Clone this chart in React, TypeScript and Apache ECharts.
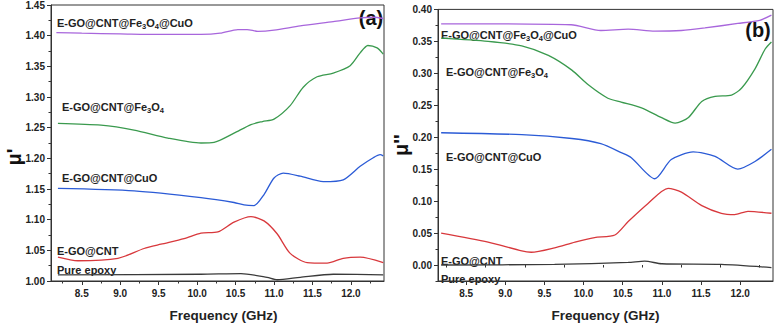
import React, { useEffect, useRef } from "react";
import * as echarts from "echarts";

// ---- Data (frequency GHz, value) ----
const aPurple = [[8.17,1.405],[8.5,1.404],[9.0,1.403],[9.5,1.402],[10.05,1.402],[10.3,1.404],[10.53,1.410],[10.65,1.410],[10.79,1.407],[11.0,1.409],[11.34,1.416],[11.77,1.423],[12.12,1.429],[12.3,1.430],[12.42,1.428]];
const aGreen = [[8.19,1.257],[8.75,1.254],[9.18,1.246],[9.62,1.233],[10.05,1.225],[10.22,1.226],[10.48,1.241],[10.70,1.255],[10.85,1.260],[11.0,1.264],[11.21,1.286],[11.38,1.316],[11.56,1.333],[11.77,1.339],[11.99,1.351],[12.12,1.372],[12.22,1.384],[12.34,1.380],[12.42,1.370]];
const aBlue = [[8.19,1.151],[9.18,1.147],[10.05,1.136],[10.48,1.128],[10.61,1.124],[10.74,1.123],[10.87,1.141],[11.0,1.168],[11.12,1.176],[11.34,1.171],[11.64,1.162],[11.9,1.165],[12.12,1.187],[12.29,1.201],[12.38,1.206],[12.42,1.204]];
const aRed = [[8.19,1.039],[8.45,1.033],[8.97,1.037],[9.31,1.053],[9.53,1.060],[9.83,1.069],[10.05,1.078],[10.27,1.080],[10.48,1.096],[10.70,1.105],[10.87,1.098],[11.04,1.077],[11.21,1.045],[11.43,1.030],[11.69,1.029],[11.90,1.037],[12.12,1.039],[12.42,1.030]];
const aBlack = [[8.19,1.010],[10.05,1.011],[10.57,1.012],[10.91,1.006],[11.04,1.002],[11.34,1.006],[11.77,1.011],[12.42,1.010]];

const bPurple = [[8.18,0.3775],[9.84,0.376],[10.22,0.367],[10.57,0.369],[10.91,0.366],[11.25,0.367],[11.55,0.371],[11.97,0.378],[12.25,0.383],[12.40,0.391]];
const bGreen = [[8.18,0.355],[8.78,0.350],[9.21,0.343],[9.55,0.328],[9.85,0.305],[10.06,0.282],[10.31,0.261],[10.48,0.255],[10.74,0.246],[10.99,0.231],[11.17,0.222],[11.34,0.231],[11.51,0.256],[11.68,0.264],[11.89,0.266],[12.02,0.277],[12.19,0.307],[12.32,0.338],[12.40,0.349]];
const bBlue = [[8.18,0.207],[9.21,0.204],[9.85,0.198],[10.22,0.190],[10.48,0.176],[10.61,0.168],[10.91,0.135],[11.12,0.165],[11.40,0.177],[11.68,0.170],[11.97,0.150],[12.19,0.162],[12.40,0.181]];
const bRed = [[8.18,0.050],[8.78,0.036],[9.21,0.022],[9.33,0.020],[9.63,0.027],[9.89,0.036],[10.14,0.043],[10.40,0.047],[10.57,0.068],[10.82,0.096],[11.08,0.120],[11.25,0.114],[11.51,0.093],[11.76,0.081],[11.93,0.079],[12.10,0.084],[12.40,0.081]];
const bBlack = [[8.18,0.000],[9.63,0.001],[10.57,0.004],[10.78,0.006],[11.0,0.002],[11.76,0.001],[12.40,-0.004]];

const xMajorTicks = [8.5, 9.0, 9.5, 10.0, 10.5, 11.0, 11.5, 12.0];
const xMinorTicks = [8.25, 8.75, 9.25, 9.75, 10.25, 10.75, 11.25, 11.75, 12.25];
const bYMajorTicks = [0, 0.05, 0.1, 0.15, 0.2, 0.25, 0.3, 0.35, 0.4];
const bYMinorTicks = [-0.025, 0.025, 0.075, 0.125, 0.175, 0.225, 0.275, 0.325, 0.375];

const COLORS = { purple: "#a866dc", green: "#3a9a4e", blue: "#2b5bd6", red: "#d8383c", black: "#3a3a3a" };
const FONT = "Liberation Sans, Arial, sans-serif";

export default function App() {
  const ref = useRef<HTMLDivElement>(null);
  useEffect(() => {
    if (!ref.current) return;
    const chart = echarts.init(ref.current, null, { renderer: "svg" });
    const axisText = { color: "#222", fontSize: 10, fontWeight: "bold" as const, fontFamily: FONT };
    const lineStyle = { color: "#333", width: 1 };
    const mkX = (grid: number, min: number, max: number, titlePad: number[]) => [
      {
        type: "value", gridIndex: grid, min, max, position: "bottom",
        axisLine: { show: true, onZero: false, lineStyle },
        axisTick: { show: true, inside: false, length: 4, lineStyle, customValues: xMajorTicks },
        axisLabel: { ...axisText, margin: 7, customValues: xMajorTicks, formatter: (v: number) => v.toFixed(1) },
        splitLine: { show: false },
        name: "Frequency (GHz)", nameLocation: "middle", nameGap: 27,
        nameTextStyle: { color: "#222", fontSize: 13.5, fontWeight: "bold", fontFamily: FONT, padding: titlePad },
      },
      {
        type: "value", gridIndex: grid, min, max, position: "bottom", offset: 0,
        axisLine: { show: false },
        axisTick: { show: true, inside: false, length: 2.5, lineStyle, customValues: xMinorTicks },
        axisLabel: { show: false },
        splitLine: { show: false },
      },
    ];
    const mkSeries = (name: string, data: number[][], color: string, grid: number) => ({
      type: "line", name, data, xAxisIndex: grid * 2, yAxisIndex: grid === 0 ? 0 : 1,
      showSymbol: false, smooth: 0.25, lineStyle: { color, width: 1.3 }, itemStyle: { color },
    });
    const rich = {
      n: { fontSize: 11, fontWeight: "bold", fontFamily: FONT, color: "#222" },
      s: { fontSize: 7.5, fontWeight: "bold", fontFamily: FONT, color: "#222", padding: [6, 0, 0, 0] },
    };
    const label = (x: number, y: number, text: string) => ({
      type: "text", x, y, silent: true,
      style: { text, rich, verticalAlign: "middle", align: "left", fill: "#222", fontSize: 11, fontWeight: "bold", fontFamily: FONT },
    });
    const FCO = "{n|E-GO@CNT@Fe}{s|3}{n|O}{s|4}{n|@CuO}";
    const FE = "{n|E-GO@CNT@Fe}{s|3}{n|O}{s|4}";
    const CU = "{n|E-GO@CNT@CuO}";
    const CN = "{n|E-GO@CNT}";
    const PE = "{n|Pure epoxy}";
    chart.setOption({
      animation: false,
      backgroundColor: "#fff",
      grid: [
        { left: 51, top: 5, width: 333, height: 279.5, show: true, borderColor: "#333", borderWidth: 1, backgroundColor: "transparent" },
        { left: 438, top: 9.4, width: 335, height: 277.6, show: true, borderColor: "#333", borderWidth: 1, backgroundColor: "transparent" },
      ],
      xAxis: [...mkX(0, 8.1, 12.43, [0, 0, 0, 12]), ...mkX(1, 8.14, 12.42, [0, 0, 0, 0])],
      yAxis: [
        {
          type: "value", gridIndex: 0, min: 1.0, max: 1.45, interval: 0.05,
          axisLine: { show: true, lineStyle },
          axisTick: { show: true, length: 4, lineStyle },
          minorTick: { show: true, splitNumber: 2, length: 2.5, lineStyle },
          axisLabel: { ...axisText, margin: 6, formatter: (v: number) => v.toFixed(2) },
          splitLine: { show: false },
        },
        {
          type: "value", gridIndex: 1, min: -0.025, max: 0.4,
          axisLine: { show: true, lineStyle },
          axisTick: { show: true, length: 4, lineStyle, customValues: bYMajorTicks },
          axisLabel: { ...axisText, margin: 6, customValues: bYMajorTicks, formatter: (v: number) => v.toFixed(2) },
          splitLine: { show: false },
        },
        {
          type: "value", gridIndex: 1, min: -0.025, max: 0.4, position: "left", offset: 0,
          axisLine: { show: false },
          axisTick: { show: true, length: 2.5, lineStyle, customValues: bYMinorTicks },
          axisLabel: { show: false },
          splitLine: { show: false },
        },
      ],
      series: [
        mkSeries("a-purple", aPurple, COLORS.purple, 0),
        mkSeries("a-green", aGreen, COLORS.green, 0),
        mkSeries("a-blue", aBlue, COLORS.blue, 0),
        mkSeries("a-red", aRed, COLORS.red, 0),
        mkSeries("a-black", aBlack, COLORS.black, 0),
        mkSeries("b-purple", bPurple, COLORS.purple, 1),
        mkSeries("b-green", bGreen, COLORS.green, 1),
        mkSeries("b-blue", bBlue, COLORS.blue, 1),
        mkSeries("b-red", bRed, COLORS.red, 1),
        mkSeries("b-black", bBlack, COLORS.black, 1),
      ],
      graphic: [
        label(57, 23, FCO),
        label(62, 107, FE),
        label(62, 178, CU),
        label(57, 251, CN),
        label(57, 270, PE),
        label(441, 35, FCO),
        label(446, 72, FE),
        label(446, 157, CU),
        label(441, 261, CN),
        label(441, 279, PE),
        { type: "text", x: 371, y: 18, silent: true, style: { text: "(a)", align: "center", verticalAlign: "middle", fontSize: 20, fontWeight: "bold", fontFamily: FONT, fill: "#111" } },
        { type: "text", x: 758, y: 30, silent: true, style: { text: "(b)", align: "center", verticalAlign: "middle", fontSize: 20, fontWeight: "bold", fontFamily: FONT, fill: "#111" } },
        { type: "text", x: 14, y: 157, rotation: Math.PI / 2, silent: true, style: { text: "μ'", align: "center", verticalAlign: "middle", fontSize: 20, fontWeight: "bold", fontFamily: FONT, fill: "#111" } },
        { type: "text", x: 401, y: 145, rotation: Math.PI / 2, silent: true, style: { text: "μ''", align: "center", verticalAlign: "middle", fontSize: 20, fontWeight: "bold", fontFamily: FONT, fill: "#111" } },
      ],
    });
    return () => chart.dispose();
  }, []);
  return <div ref={ref} style={{ position: "fixed", left: 0, top: 0, width: 776, height: 327 }} />;
}
